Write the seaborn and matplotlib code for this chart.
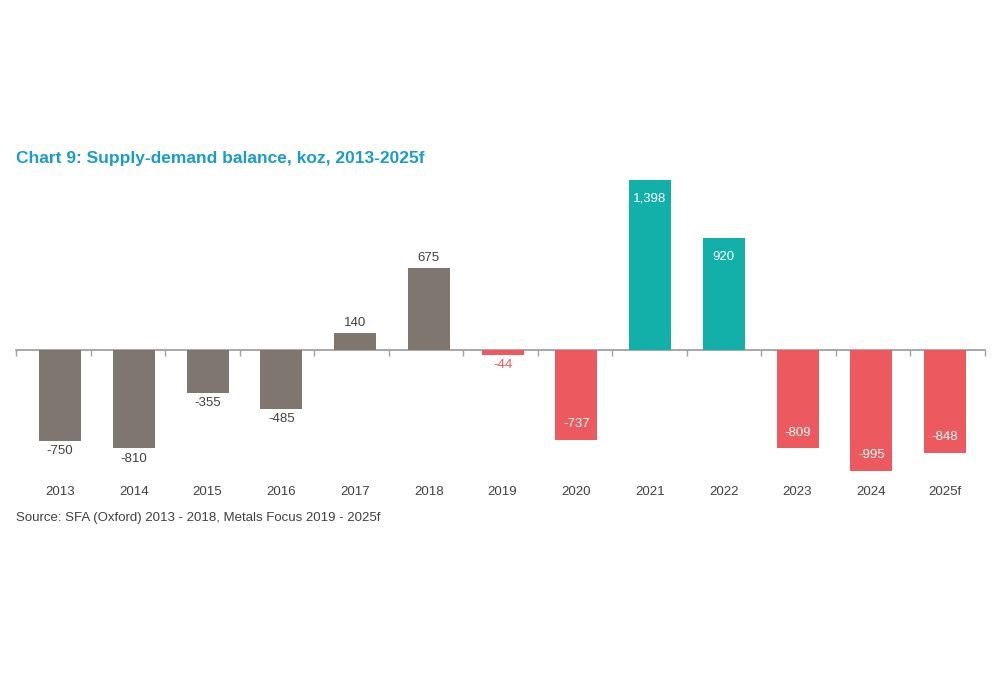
import seaborn as sns
import matplotlib.pyplot as plt
import pandas as pd

years = ["2013", "2014", "2015", "2016", "2017", "2018", "2019",
         "2020", "2021", "2022", "2023", "2024", "2025f"]
balance = [-750, -810, -355, -485, 140, 675, -44,
           -737, 1398, 920, -809, -995, -848]
source = ["SFA", "SFA", "SFA", "SFA", "SFA", "SFA", "MF_deficit",
          "MF_deficit", "MF_surplus", "MF_surplus", "MF_deficit", "MF_deficit", "MF_deficit"]

colors = {"SFA": "#7f7670", "MF_surplus": "#12b0a9", "MF_deficit": "#ec5a5f"}
txt = "#404040"

df = pd.DataFrame({"year": years, "koz": balance, "src": source})

sns.set_style("white")
plt.rcParams['font.family'] = ['Liberation Sans', 'DejaVu Sans']

fig = plt.figure(figsize=(10, 6.75), dpi=100)
ax = fig.add_axes([0.016, 0.2797, 0.969, 0.4631])

# the bars sit a little right of the tick grid in the original
xmin, xmax = -0.597, 12.542
ymin, ymax = -1120, 1450

# zero line with evenly spaced boundary ticks (drawn under the bars)
zero = ax.secondary_xaxis(-ymin / (ymax - ymin))
zero.set_zorder(0)
zero.spines['bottom'].set_color("#a0a0a0")
zero.spines['bottom'].set_linewidth(1.3)
n = len(years)
zero.set_xticks([xmin + k * (xmax - xmin) / n for k in range(n + 1)])
zero.tick_params(axis="x", length=4, width=1, color="#a0a0a0", labelbottom=False)

sns.barplot(data=df, x="year", y="koz", hue="src", palette=colors,
            dodge=False, legend=False, width=0.57, saturation=1,
            linewidth=0, ax=ax, zorder=3)

ax.set_ylim(ymin, ymax)
ax.set_xlim(xmin, xmax)
for s in ax.spines.values():
    s.set_visible(False)
ax.set_yticks([])
ax.set_xlabel("")
ax.set_ylabel("")
ax.tick_params(axis="x", length=0, pad=0, labelsize=9.5, labelcolor=txt)

# value labels
for i, (v, s) in enumerate(zip(balance, source)):
    lab = f"{v:,}"
    if s == "SFA":
        if v > 0:
            ax.annotate(lab, (i, v), xytext=(0, 3), textcoords="offset points",
                        ha="center", va="bottom", fontsize=9.5, color=txt)
        else:
            ax.annotate(lab, (i, v), xytext=(0, -3), textcoords="offset points",
                        ha="center", va="top", fontsize=9.5, color=txt)
    elif abs(v) < 200:
        ax.annotate(lab, (i, v), xytext=(0, -3), textcoords="offset points",
                    ha="center", va="top", fontsize=9.5, color=colors[s])
    elif v > 0:
        ax.annotate(lab, (i, v), xytext=(0, -9), textcoords="offset points",
                    ha="center", va="top", fontsize=9.5, color="white")
    else:
        ax.annotate(lab, (i, v), xytext=(0, 7), textcoords="offset points",
                    ha="center", va="bottom", fontsize=9.5, color="white")

fig.text(0.016, 1 - 158 / 675, "Chart 9: Supply-demand balance, koz, 2013-2025f",
         fontsize=12.5, fontweight="bold", color="#1a9ccb", va="center", ha="left")
fig.text(0.016, 1 - 518 / 675, "Source: SFA (Oxford) 2013 - 2018, Metals Focus 2019 - 2025f",
         fontsize=9.5, color=txt, va="center", ha="left")

fig.savefig("out.png", dpi=100, facecolor="white")
